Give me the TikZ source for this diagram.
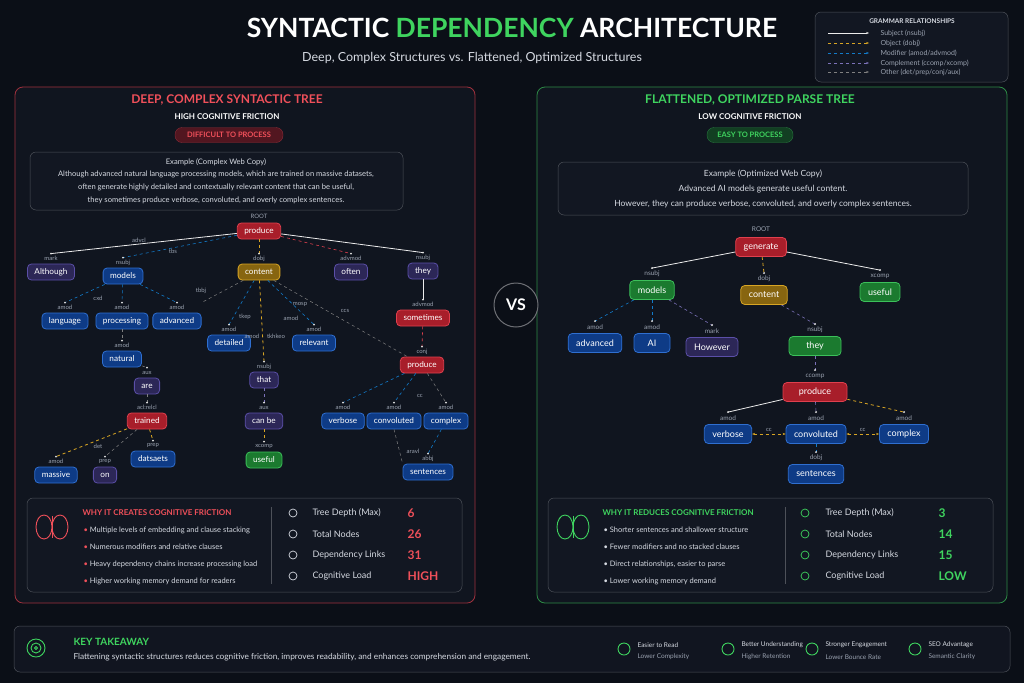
\documentclass[tikz,border=0pt]{standalone}
\usepackage{fontspec}
\setmainfont{Lato}
\usetikzlibrary{positioning,arrows.meta}
\definecolor{bg}{HTML}{0B0F17}
\definecolor{panel}{HTML}{121722}
\definecolor{redB}{HTML}{E0404E}
\definecolor{redF}{HTML}{A81E2A}
\definecolor{grnB}{HTML}{3CC05A}
\definecolor{grnF}{HTML}{1B7A2F}
\definecolor{bluB}{HTML}{2F6FD0}
\definecolor{bluF}{HTML}{0E3B86}
\definecolor{purB}{HTML}{5B4FA8}
\definecolor{purF}{HTML}{2C2757}
\definecolor{golB}{HTML}{D8A524}
\definecolor{golF}{HTML}{876510}
\definecolor{txt}{HTML}{D6DAE2}
\definecolor{dim}{HTML}{9AA2B0}
\definecolor{grnT}{HTML}{3FD45F}
\definecolor{redT}{HTML}{F0505A}
\begin{document}
\begin{tikzpicture}[x=1pt,y=-1pt,
  nd/.style={rounded corners=4pt,line width=0.8pt,text=white,font=\fontsize{8.2}{9}\selectfont,minimum height=16pt,inner xsep=7pt,inner ysep=2pt},
  big/.style={nd,font=\fontsize{9}{10}\selectfont,minimum height=19pt,inner xsep=8pt},
  rd/.style={draw=redB,fill=redF},
  bl/.style={draw=bluB,fill=bluF},
  pu/.style={draw=purB,fill=purF},
  go/.style={draw=golB,fill=golF},
  gr/.style={draw=grnB,fill=grnF},
  lbl/.style={text=dim,font=\fontsize{6}{7}\selectfont,inner sep=0.5pt},
  subj/.style={draw=white!85!gray,line width=0.8pt},
  obj/.style={draw=golB,dashed,line width=0.8pt},
  mod/.style={draw=cyan!60!blue,dashed,line width=0.6pt},
  comp/.style={draw=purB!80!white,dashed,line width=0.6pt},
  adv/.style={draw=redB,dashed,line width=0.6pt},
  oth/.style={draw=gray,dashed,line width=0.5pt},
  box/.style={draw=white!25!panel,fill=panel,rounded corners=6pt,line width=0.5pt},
  ico/.style={line width=0.9pt}]
\fill[bg] (0,0) rectangle (1024,683);
% header
\node[font=\fontsize{26.5}{28}\bfseries\selectfont,text=white] (title) at (512,28)
  {SYNTACTIC \textcolor{grnT}{DEPENDENCY} ARCHITECTURE};
\node[font=\fontsize{12.5}{14}\selectfont,text=txt] (sub) at (472,58)
  {Deep, Complex Structures vs. Flattened, Optimized Structures};
% legend
\draw[box] (815,12) rectangle (1008,82);
\node[font=\fontsize{6.5}{7}\bfseries\selectfont,text=txt] (legT) at (912,21) {GRAMMAR RELATIONSHIPS};
\foreach \y/\s/\t in {33/subj/{Subject (nsubj)},43/obj/{Object (dobj)},53/mod/{Modifier (amod/advmod)},63/comp/{Complement (ccomp/xcomp)},72/oth/{Other (det/prep/conj/aux)}}{
  \coordinate (l1) at (828,\y); \coordinate (l2) at (869,\y);
  \draw[\s,-{Stealth[length=3pt]}] (l1) -- (l2);
  \node[anchor=west,text=dim,font=\fontsize{7}{8}\selectfont] at (877,\y) {\t};}
% panels
\draw[draw=redB!70!bg,fill=panel!70!bg,rounded corners=8pt,line width=0.8pt] (15,87) rectangle (475,603);
\draw[draw=grnB!70!bg,fill=panel!70!bg,rounded corners=8pt,line width=0.8pt] (537,87) rectangle (1007,603);
\node[draw=white!40!bg,fill=bg,circle,minimum size=44pt,line width=1pt,text=white,font=\fontsize{16}{18}\bfseries\selectfont] (vs) at (516,305) {VS};
% left header
\node[text=redT,font=\fontsize{12}{14}\bfseries\selectfont] (lhead) at (227,100) {DEEP, COMPLEX SYNTACTIC TREE};
\node[text=white,font=\fontsize{8}{9}\bfseries\selectfont] (lsub) at (227,117) {HIGH COGNITIVE FRICTION};
\node[draw=redB!60!bg,fill=redF!45!bg,rounded corners=7pt,text=redT,font=\fontsize{7.5}{9}\bfseries\selectfont,minimum width=108pt,minimum height=15pt] (lbad) at (229,135) {DIFFICULT TO PROCESS};
\draw[box] (30,152) rectangle (403,210);
\node[text=txt,align=center,font=\fontsize{7.6}{12.8}\selectfont] (lex) at (216,181)
  {Example (Complex Web Copy)\\Although advanced natural language processing models, which are trained on massive datasets,\\often generate highly detailed and contextually relevant content that can be useful,\\they sometimes produce verbose, convoluted, and overly complex sentences.};
% right header
\node[text=grnT,font=\fontsize{12}{14}\bfseries\selectfont] (rhead) at (750,100) {FLATTENED, OPTIMIZED PARSE TREE};
\node[text=white,font=\fontsize{8}{9}\bfseries\selectfont] (rsub) at (750,117) {LOW COGNITIVE FRICTION};
\node[draw=grnB!60!bg,fill=grnF!45!bg,rounded corners=7pt,text=grnT,font=\fontsize{7.5}{9}\bfseries\selectfont,minimum width=86pt,minimum height=15pt] (rbad) at (750,135) {EASY TO PROCESS};
\draw[box] (558,162) rectangle (968,215);
\node[text=txt,align=center,font=\fontsize{8.5}{15}\selectfont] (rex) at (763,189)
  {Example (Optimized Web Copy)\\Advanced AI models generate useful content.\\However, they can produce verbose, convoluted, and overly complex sentences.};
% left tree
\node[nd,rd] (Lprod) at (259,231) {produce};
\node[lbl] at (259,216) {ROOT};
\node[nd,pu] (Lalth) at (51,272) {Although};
\node[nd,bl] (Lmod) at (123,276) {models};
\node[nd,go] (Lcont) at (259,272) {content};
\node[nd,pu] (Loft) at (351,272) {often};
\node[nd,pu] (Lthey) at (423,271) {they};
\node[nd,bl] (Llang) at (65,321) {language};
\node[nd,bl] (Lproc) at (122,321) {processing};
\node[nd,bl] (Ladv) at (177,321) {advanced};
\node[nd,bl] (Ldet) at (229,343) {detailed};
\node[nd,bl] (Lrel) at (314,343) {relevant};
\node[nd,rd] (Lsome) at (423,318) {sometimes};
\node[nd,bl] (Lnat) at (122,359) {natural};
\node[nd,pu] (Lthat) at (264,380) {that};
\node[nd,rd] (Lprod2) at (422,365) {produce};
\node[nd,pu] (Lare) at (147,386) {are};
\node[nd,rd] (Ltrain) at (147,421) {trained};
\node[nd,pu] (Lcan) at (264,421) {can be};
\node[nd,bl] (Lverb) at (343,421) {verbose};
\node[nd,bl] (Lconv) at (394,421) {convoluted};
\node[nd,bl] (Lcplx) at (446,421) {complex};
\node[nd,bl] (Ldata) at (153,459) {datsaets};
\node[nd,gr] (Luse) at (264,460) {useful};
\node[nd,bl] (Lmass) at (56,475) {massive};
\node[nd,pu] (Lon) at (105,475) {on};
\node[nd,bl] (Lsent) at (428,472) {sentences};
\foreach \p/\c/\l/\s in {Lprod/Lalth/mark/subj, Lprod/Lmod/nsubj/mod, Lprod/Lcont/dobj/obj, Lprod/Loft/advmod/adv, Lprod/Lthey/nsubj/subj,
  Lmod/Llang/amod/mod, Lmod/Lproc/amod/mod, Lmod/Ladv/amod/mod, Lcont/Ldet/amod/mod, Lcont/Lthat/nsubj/obj, Lcont/Lrel/amod/mod,
  Lthey/Lsome/advmod/subj, Lsome/Lprod2/conj/adv, Lproc/Lnat/amod/oth, Lnat/Lare/aux/oth, Lare/Ltrain/acl:relcl/oth,
  Ltrain/Lmass/amod/obj, Ltrain/Lon/prep/oth, Ltrain/Ldata/prep/obj, Lthat/Lcan/aux/comp, Lcan/Luse/xcomp/obj,
  Lprod2/Lverb/amod/mod, Lprod2/Lconv/amod/mod, Lprod2/Lcplx/amod/oth, Lcplx/Lsent/abbj/mod}{
  \draw[\s] (\p) -- ([yshift=10pt]\c.north);
  \fill[white!80!gray] ([yshift=10pt]\c.north) circle (1pt);
  \node[lbl] at ([yshift=5pt]\c.north) {\l};}
% extra links with mid labels
\draw[oth] (Lcont) -- ([yshift=10pt]Ladv.north east);
\draw[oth] (Lcont) -- (Lprod2);
\draw[oth] (Lconv.south) -- (Lsent.north west);
\node[lbl] at (139,240) {advcl};
\node[lbl] at (173,251) {tbs};
\node[lbl] at (98,298) {cxd};
\node[lbl] at (201,291) {tbbj};
\node[lbl] at (245,317) {tkep};
\node[lbl] at (252,336) {amod};
\node[lbl] at (300,304) {mosp};
\node[lbl] at (291,318) {amod};
\node[lbl] at (345,311) {ccs};
\node[lbl] at (276,336) {tkhkeo};
\node[lbl] at (98,446) {det};
\node[lbl] at (413,451) {aravl};
\node[lbl] at (420,396) {cc};
% right tree
\node[big,rd] (Rgen) at (761,247) {generate};
\node[lbl,font=\fontsize{6.5}{7}\selectfont] at (761,229) {ROOT};
\node[big,gr] (Rmod) at (652,290) {models};
\node[big,go] (Rcont) at (764,295) {content};
\node[big,gr] (Ruse) at (880,292) {useful};
\node[big,bl] (Radv) at (595,343) {advanced};
\node[big,bl,minimum width=36pt] (Rai) at (652,343) {AI};
\node[big,pu] (Rhow) at (712,347) {However};
\node[big,gr,minimum width=52pt] (Rthey) at (815,346) {they};
\node[big,rd,minimum width=64pt] (Rprod) at (815,392) {produce};
\node[big,bl] (Rverb) at (728,434) {verbose};
\node[big,bl] (Rconv) at (816,434) {convoluted};
\node[big,bl] (Rcplx) at (904,434) {complex};
\node[big,bl] (Rsent) at (816,474) {sentences};
\foreach \p/\c/\l/\s in {Rgen/Rmod/nsubj/subj, Rgen/Rcont/dobj/obj, Rgen/Ruse/xcomp/subj, Rmod/Radv/amod/mod, Rmod/Rai/amod/mod,
  Rmod/Rhow/mark/comp, Rcont/Rthey/nsubj/comp, Rthey/Rprod/ccomp/comp, Rprod/Rverb/amod/subj, Rprod/Rconv/amod/comp,
  Rprod/Rcplx/amod/obj, Rconv/Rsent/dobj/mod}{
  \draw[\s] (\p) -- ([yshift=12pt]\c.north);
  \fill[white!80!gray] ([yshift=12pt]\c.north) circle (1.1pt);
  \node[lbl,font=\fontsize{6.5}{7}\selectfont] at ([yshift=6pt]\c.north) {\l};}
\draw[draw=golB,dashed,line width=0.6pt,{Stealth[length=3pt]}-{Stealth[length=3pt]}] (Rverb) -- (Rconv) node[lbl,midway,above=2pt] {cc};
\draw[draw=golB,dashed,line width=0.6pt,{Stealth[length=3pt]}-{Stealth[length=3pt]}] (Rconv) -- (Rcplx) node[lbl,midway,above=2pt] {cc};
% left stats
\draw[box] (27,498) rectangle (462,592);
\draw[redT,ico] (44,527) ellipse (8pt and 12pt) (60,527) ellipse (8pt and 12pt);
\draw[redT,ico] (52,516) -- (52,538);
\node[anchor=west,text=redT,font=\fontsize{8}{9}\bfseries\selectfont] (lwhy) at (79,513) {WHY IT CREATES COGNITIVE FRICTION};
\foreach \y/\t in {530/Multiple levels of embedding and clause stacking,547/Numerous modifiers and relative clauses,564/Heavy dependency chains increase processing load,581/Higher working memory demand for readers}
  \node[anchor=west,text=txt,font=\fontsize{7.5}{8}\selectfont] at (80,\y) {\textcolor{redT}{\textbullet}\ \t};
\draw[white!25!panel] (271,507) -- (271,584);
\foreach \y/\t/\v in {513/Tree Depth (Max)/6,534/Total Nodes/26,555/Dependency Links/31,576/Cognitive Load/HIGH}{
  \draw[txt,line width=0.7pt] (293,\y) circle (4pt);
  \node[anchor=west,text=txt,font=\fontsize{9}{10}\selectfont] at (309,\y) {\t};
  \node[anchor=west,text=redT,font=\fontsize{12}{13}\bfseries\selectfont] at (404,\y) {\v};}
% right stats
\draw[box] (548,498) rectangle (993,592);
\draw[grnT,ico] (565,527) ellipse (8pt and 12pt) (581,527) ellipse (8pt and 12pt);
\draw[grnT,ico] (573,516) -- (573,538);
\node[anchor=west,text=grnT,font=\fontsize{8}{9}\bfseries\selectfont] (rwhy) at (599,513) {WHY IT REDUCES COGNITIVE FRICTION};
\foreach \y/\t in {530/Shorter sentences and shallower structure,547/Fewer modifiers and no stacked clauses,564/{Direct relationships, easier to parse},581/Lower working memory demand}
  \node[anchor=west,text=txt,font=\fontsize{7.5}{8}\selectfont] at (600,\y) {\textbullet\ \t};
\draw[white!25!panel] (785,507) -- (785,584);
\foreach \y/\t/\v in {513/Tree Depth (Max)/3,534/Total Nodes/14,555/Dependency Links/15,576/Cognitive Load/LOW}{
  \draw[grnT,line width=0.7pt] (805,\y) circle (4pt);
  \node[anchor=west,text=txt,font=\fontsize{9}{10}\selectfont] at (822,\y) {\t};
  \node[anchor=west,text=grnT,font=\fontsize{12}{13}\bfseries\selectfont] at (935,\y) {\v};}
% takeaway bar
\draw[box,fill=panel!80!bg] (14,626) rectangle (1010,672);
\draw[grnT,ico] (36,648) circle (9pt) (36,648) circle (5pt) (36,648) circle (1.5pt);
\node[anchor=west,text=grnT,font=\fontsize{10}{11}\bfseries\selectfont] (key) at (70,642) {KEY TAKEAWAY};
\node[anchor=west,text=txt,font=\fontsize{8.3}{9}\selectfont] (keyt) at (70,657) {Flattening syntactic structures reduces cognitive friction, improves readability, and enhances comprehension and engagement.};
\foreach \x/\a/\b in {624/Easier to Read/Lower Complexity,728/Better Understanding/Higher Retention,812/Stronger Engagement/Lower Bounce Rate,915/SEO Advantage/Semantic Clarity}{
  \draw[grnT,ico] (\x,649) circle (6pt);
  \node[anchor=west,text=txt,font=\fontsize{6.5}{7}\selectfont] at (\x+10,645) {\a};
  \node[anchor=west,text=dim,font=\fontsize{6.5}{7}\selectfont] at (\x+10,657) {\b};}
\end{tikzpicture}
\end{document}
